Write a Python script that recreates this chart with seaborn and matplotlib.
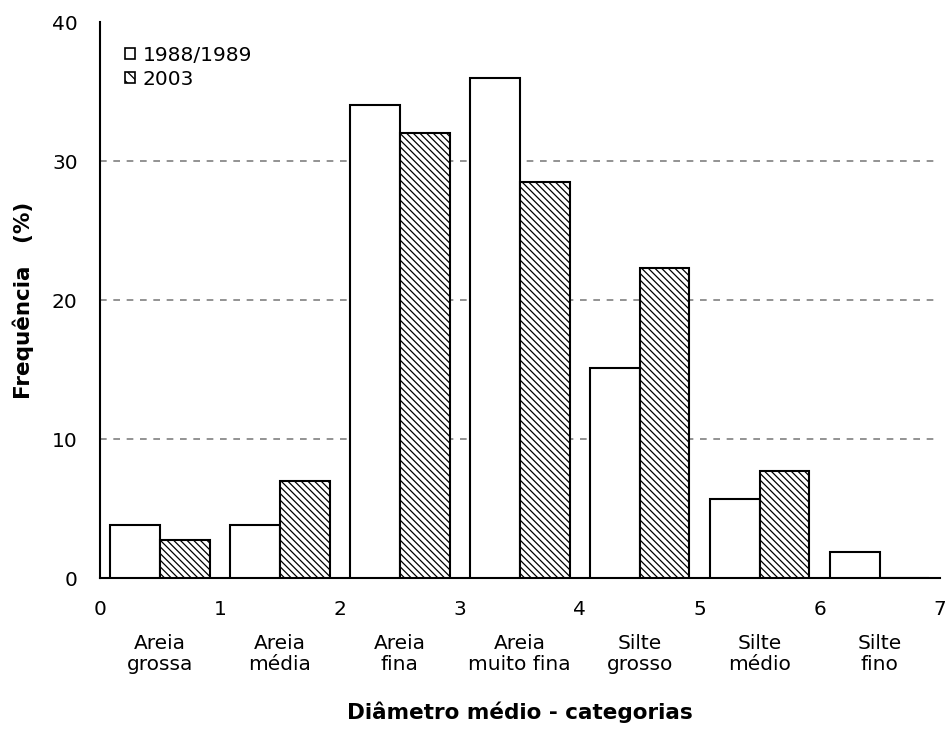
import numpy as np
import pandas as pd
import seaborn as sns
import matplotlib.pyplot as plt
from matplotlib.patches import Patch

# dados
categorias = ["Areia\ngrossa", "Areia\nmédia", "Areia\nfina", "Areia\nmuito fina",
              "Silte\ngrosso", "Silte\nmédio", "Silte\nfino"]
freq_1988 = [3.8, 3.8, 34.0, 36.0, 15.1, 5.7, 1.9]
freq_2003 = [2.7, 7.0, 32.0, 28.5, 22.3, 7.7, 0.0]
periodos = ["1988/1989", "2003"]
y_ticks = [0, 10, 20, 30, 40]
x_tick_labels = ["0", "1", "2", "3", "4", "5", "6", "7"]

df = pd.DataFrame({
    "Categoria": categorias * 2,
    "Frequência": freq_1988 + freq_2003,
    "Período": [periodos[0]] * len(categorias) + [periodos[1]] * len(categorias),
})

sns.set_style("white")
plt.rcParams["font.family"] = ["DejaVu Sans"]
plt.rcParams["hatch.linewidth"] = 0.9
for k in ["text.color", "axes.labelcolor", "xtick.color", "ytick.color"]:
    plt.rcParams[k] = "black"
hatch = "\\" * 5
fs = 14.5

fig = plt.figure(figsize=(9.51, 7.34), dpi=100)
ax = fig.add_axes([0.105, 0.2125, 0.883, 0.7575])

sns.barplot(data=df, x="Categoria", y="Frequência", hue="Período",
            palette=["white", "white"], edgecolor="black", linewidth=1.5,
            width=0.83, gap=0, legend=False, ax=ax, zorder=3)
for bar in ax.containers[1]:
    bar.set_hatch(hatch)

ax.set_xlim(-0.5, len(categorias) - 0.5)
ax.set_ylim(y_ticks[0], y_ticks[-1])

# grade tracejada
for v in y_ticks[1:-1]:
    ax.axhline(v, color="#808080", linestyle=(0, (4, 4)), linewidth=1.2, zorder=1)

# eixo x: números nas divisões, nomes das categorias no centro
ax.set_xticks(np.arange(len(x_tick_labels)) - 0.5)
ax.set_xticklabels(x_tick_labels, fontsize=fs)
ax.set_xticks(np.arange(len(categorias)), minor=True)
ax.set_xticklabels(categorias, minor=True, fontsize=fs, linespacing=1.15)
ax.tick_params(axis="x", which="minor", length=0, pad=40)
ax.tick_params(axis="x", which="major", direction="out", length=6, width=1.2, pad=10)
ax.set_yticks(y_ticks)
ax.set_yticklabels([str(v) for v in y_ticks], fontsize=fs)
ax.tick_params(axis="y", direction="out", length=6, width=1.2, pad=10)

sns.despine(ax=ax)
for s in ["left", "bottom"]:
    ax.spines[s].set_linewidth(1.5)
    ax.spines[s].set_color("black")

ax.set_xlabel("Diâmetro médio - categorias", fontsize=15.5, fontweight="bold", va="top")
ax.xaxis.set_label_coords(0.5, -0.222)
ax.set_ylabel("Frequência   (%)", fontsize=15.5, fontweight="bold")
ax.yaxis.set_label_coords(-0.078, 0.5)

handles = [Patch(facecolor="white", edgecolor="black", linewidth=1.2, label=periodos[0]),
           Patch(facecolor="white", edgecolor="black", linewidth=1.2, hatch="\\\\\\", label=periodos[1])]
ax.legend(handles=handles, loc="upper left", bbox_to_anchor=(0.008, 0.99), frameon=False,
          fontsize=fs, handlelength=0.5, handleheight=0.5, handletextpad=0.4, labelspacing=0.25)

fig.savefig("out.png", dpi=100)
